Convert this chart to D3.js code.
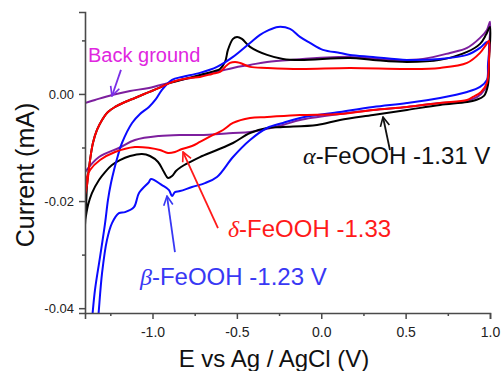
<!DOCTYPE html>
<html><head><meta charset="utf-8">
<script src="https://cdn.jsdelivr.net/npm/d3@7"></script>
<style>html,body{margin:0;padding:0;background:#fff;}svg{display:block;}</style>
</head><body>
<svg id="c" width="502" height="371"></svg>
<script>
// ---- data (E in V vs Ag/AgCl, current in mA), each a closed CV loop ----
const bgE = [-1.400,-1.341,-1.240,-1.133,-1.021,-0.884,-0.719,-0.523,-0.422,-0.321,-0.185,0.170,0.407,0.603,0.763,0.864,0.941,0.982,1.000,
             0.994,0.982,0.947,0.899,0.822,0.704,0.508,0.307,0.111,-0.126,-0.227,-0.422,-0.523,-0.719,-0.819,-0.961,-1.104,-1.199,-1.317,-1.400];
const bgI = [-0.00168,-0.00112,-0.00019,0.00056,0.00112,0.00224,0.00336,0.00486,0.00542,0.00598,0.00636,0.00692,0.00636,0.00654,0.00766,0.00860,0.01047,0.01196,0.01346,
             0.00822,0.00168,0.00000,-0.00093,-0.00150,-0.00168,-0.00243,-0.00299,-0.00374,-0.00486,-0.00579,-0.00710,-0.00729,-0.00766,-0.00766,-0.00785,-0.00860,-0.01009,-0.01178,-0.01458];

const alphaE = [-1.400,-1.394,-1.388,-1.370,-1.353,-1.329,-1.299,-1.264,-1.222,-1.163,-1.104,-1.033,-0.961,-0.896,-0.843,-0.719,-0.630,-0.600,-0.570,-0.553,-0.523,-0.499,-0.470,-0.422,-0.321,-0.227,-0.126,0.170,0.307,0.508,0.704,0.864,0.941,0.976,1.000,
                0.994,0.988,0.964,0.917,0.864,0.704,0.508,0.307,0.111,-0.025,-0.227,-0.321,-0.422,-0.523,-0.618,-0.719,-0.778,-0.831,-0.861,-0.884,-0.908,-0.932,-0.967,-1.015,-1.062,-1.133,-1.193,-1.240,-1.281,-1.317,-1.359,-1.382,-1.400];
const alphaI = [-0.02449,-0.02150,-0.01701,-0.01234,-0.00916,-0.00673,-0.00486,-0.00336,-0.00243,-0.00150,-0.00075,0.00019,0.00112,0.00206,0.00250,0.00355,0.00430,0.00467,0.00598,0.00822,0.01028,0.01065,0.01028,0.00879,0.00729,0.00654,0.00636,0.00673,0.00636,0.00598,0.00636,0.00785,0.00935,0.01103,0.01252,
                0.00636,0.00168,-0.00037,-0.00112,-0.00150,-0.00206,-0.00299,-0.00393,-0.00486,-0.00579,-0.00617,-0.00636,-0.00729,-0.00916,-0.01047,-0.01178,-0.01271,-0.01364,-0.01439,-0.01533,-0.01570,-0.01458,-0.01271,-0.01159,-0.01121,-0.01159,-0.01234,-0.01327,-0.01458,-0.01607,-0.01850,-0.02075,-0.02393];

const betaE = [-1.400,-1.382,-1.359,-1.341,-1.311,-1.281,-1.264,-1.246,-1.228,-1.204,-1.181,-1.121,-1.074,-1.021,-0.979,-0.944,-0.884,-0.825,-0.719,-0.618,-0.523,-0.422,-0.363,-0.321,-0.256,-0.185,-0.126,-0.067,0.010,0.111,0.170,0.307,0.508,0.704,0.864,0.941,0.982,0.994,
               0.988,0.982,0.941,0.864,0.704,0.508,0.307,0.111,-0.126,-0.227,-0.321,-0.422,-0.523,-0.618,-0.689,-0.766,-0.837,-0.867,-0.884,-0.902,-0.944,-1.009,-1.021,-1.080,-1.110,-1.163,-1.199,-1.240,-1.270,-1.299,-1.323,-1.341,-1.370,-1.394];
const betaI = [-0.0572,-0.04879,-0.04224,-0.03664,-0.03047,-0.02411,-0.01981,-0.01664,-0.01421,-0.01140,-0.00916,-0.00542,-0.00374,-0.00243,-0.00093,0.00075,0.00262,0.00318,0.00393,0.00505,0.00692,0.00953,0.01103,0.01178,0.01252,0.01215,0.01065,0.00953,0.00822,0.00766,0.00729,0.00692,0.00636,0.00654,0.00729,0.00860,0.00972,0.00953,
               0.00542,0.00262,0.00131,0.00037,-0.00075,-0.00168,-0.00243,-0.00336,-0.00449,-0.00542,-0.00636,-0.00860,-0.01178,-0.01551,-0.01664,-0.01738,-0.01813,-0.01832,-0.01907,-0.01794,-0.01701,-0.01588,-0.01645,-0.01850,-0.02112,-0.02206,-0.02224,-0.02411,-0.02729,-0.03346,-0.04224,-0.04785,-0.05346,-0.0572];

const deltaE = [-1.400,-1.388,-1.370,-1.353,-1.329,-1.299,-1.264,-1.222,-1.163,-1.104,-1.033,-0.961,-0.896,-0.843,-0.778,-0.719,-0.647,-0.600,-0.570,-0.541,-0.511,-0.481,-0.422,-0.321,-0.126,0.170,0.508,0.704,0.864,0.941,0.976,0.994,
                0.994,0.982,0.947,0.899,0.864,0.704,0.508,0.307,0.111,-0.126,-0.321,-0.422,-0.523,-0.582,-0.641,-0.719,-0.766,-0.825,-0.867,-0.908,-0.956,-1.015,-1.104,-1.222,-1.311,-1.370,-1.394,-1.400];
const deltaI = [-0.01888,-0.01701,-0.01234,-0.00916,-0.00673,-0.00486,-0.00336,-0.00243,-0.00150,-0.00075,0.00019,0.00112,0.00206,0.00262,0.00299,0.00318,0.00374,0.00411,0.00505,0.00579,0.00598,0.00579,0.00505,0.00486,0.00467,0.00486,0.00467,0.00486,0.00579,0.00766,0.00916,0.00991,
                0.00636,0.00206,0.00037,-0.00056,-0.00112,-0.00168,-0.00243,-0.00299,-0.00374,-0.00393,-0.00430,-0.00449,-0.00542,-0.00673,-0.00766,-0.00897,-0.00972,-0.01028,-0.01084,-0.01103,-0.01047,-0.01009,-0.00991,-0.01084,-0.01234,-0.01421,-0.01607,-0.01888];

const xTicks = [-1.0,-0.5,0.0,0.5,1.0];
const xMinor = [-1.25,-0.75,-0.25,0.25,0.75];
const yTicks = [0.00,-0.02,-0.04];
const yMinor = [0.01,-0.01,-0.03];

// annotations: text position and arrow [tailE, tailI, tipE, tipI]
const labels = [
  {greek:"", rest:"Back ground", E:-1.382, I:0.00598, fill:"#e026e0", size:20, arrow:[-1.187,0.00449,-1.240,-0.00037], ac:"#7a2ee6"},
  {greek:"\u03b1", rest:"-FeOOH -1.31 V", E:-0.108, I:-0.01308, fill:"#111", size:24, arrow:[0.407,-0.01047,0.366,-0.00430], ac:"#111"},
  {greek:"\u03b4", rest:"-FeOOH -1.33", E:-0.553, I:-0.02673, fill:"#ff1a1a", size:24, arrow:[-0.612,-0.02505,-0.819,-0.01084], ac:"#ff1a1a"},
  {greek:"\u03b2", rest:"-FeOOH -1.23 V", E:-1.074, I:-0.03570, fill:"#3838f4", size:24, arrow:[-0.867,-0.02953,-0.914,-0.01907], ac:"#3838f4"}
];

const series = [
  {E:bgE, I:bgI, color:"#7d1f9e"},
  {E:alphaE, I:alphaI, color:"#000000"},
  {E:betaE, I:betaI, color:"#0a0aff"},
  {E:deltaE, I:deltaI, color:"#ff0000"}
];

// ---- drawing ----
const svg = d3.select("#c");
const x = d3.scaleLinear().domain([-1.4, 1.0]).range([85, 490]);
const y = d3.scaleLinear().domain([-0.0409, 0.0153]).range([313, 12]);

const defs = svg.append("defs");
defs.append("clipPath").attr("id","plot").append("rect")
  .attr("x", x(-1.4)).attr("y", 0).attr("width", x(1.0)-x(-1.4)+4).attr("height", y(-0.0409));

labels.forEach((l,i)=>{
  defs.append("marker").attr("id","ah"+i).attr("viewBox","0 0 12 12")
    .attr("refX",11).attr("refY",6).attr("markerWidth",11).attr("markerHeight",11)
    .attr("markerUnits","userSpaceOnUse").attr("orient","auto")
    .append("path").attr("d","M1,1 L11,6 L1,11").attr("fill","none")
    .attr("stroke",l.ac).attr("stroke-width",1.8);
});

const line = d3.line().curve(d3.curveCatmullRom.alpha(0.5)).x(d=>x(d[0])).y(d=>y(d[1]));
const g = svg.append("g").attr("clip-path","url(#plot)");
series.forEach(s=>{
  const pts = s.E.map((e,i)=>[e, s.I[i]]);
  g.append("path").attr("d", line(pts)).attr("fill","none")
    .attr("stroke", s.color).attr("stroke-width",2).attr("stroke-linejoin","round");
});

// axes
const axCol = "#4a4a4a";
const xAxis = svg.append("g").attr("transform",`translate(0,${y(-0.0409)})`)
  .call(d3.axisBottom(x).tickValues(xTicks).tickSize(6).tickFormat(d3.format(".1f")));
svg.append("g").attr("transform",`translate(0,${y(-0.0409)})`)
  .call(d3.axisBottom(x).tickValues(xMinor).tickSize(3).tickFormat(""))
  .call(a=>a.select(".domain").remove())
  .selectAll("line").attr("stroke",axCol).attr("stroke-width",1.5);
const yAxis = svg.append("g").attr("transform",`translate(${x(-1.4)},0)`)
  .call(d3.axisLeft(y).tickValues(yTicks).tickSize(6).tickFormat(d3.format(".2f")));
svg.append("g").attr("transform",`translate(${x(-1.4)},0)`)
  .call(d3.axisLeft(y).tickValues(yMinor).tickSize(3).tickFormat(""))
  .call(a=>a.select(".domain").remove())
  .selectAll("line").attr("stroke",axCol).attr("stroke-width",1.5);

[xAxis,yAxis].forEach(a=>{
  a.select(".domain").attr("stroke",axCol).attr("stroke-width",1.6);
  a.selectAll(".tick line").attr("stroke",axCol).attr("stroke-width",1.5);
  a.selectAll(".tick text").attr("fill","#222").attr("font-family","Liberation Sans, Arial, sans-serif");
});
xAxis.selectAll(".tick text").attr("font-size",14).attr("dy","1.05em");
yAxis.selectAll(".tick text").attr("font-size",13).attr("dx","-2");
yAxis.selectAll(".tick text").text(d=>d3.format(".2f")(d).replace("\u2212","-"));
xAxis.selectAll(".tick text").text(d=>d3.format(".1f")(d).replace("\u2212","-"));

// axis titles
svg.append("text").attr("x",274).attr("y",367).attr("text-anchor","middle")
  .attr("font-family","Liberation Sans, Arial, sans-serif").attr("font-size",24).attr("fill","#111")
  .text("E vs Ag / AgCl (V)");
svg.append("text").attr("transform","translate(34,175) rotate(-90)").attr("text-anchor","middle")
  .attr("font-family","Liberation Sans, Arial, sans-serif").attr("font-size",25).attr("fill","#111")
  .text("Current (mA)");

// annotations
labels.forEach((l,i)=>{
  const a = l.arrow;
  svg.append("line").attr("x1",x(a[0])).attr("y1",y(a[1])).attr("x2",x(a[2])).attr("y2",y(a[3]))
    .attr("stroke",l.ac).attr("stroke-width",1.8).attr("marker-end",`url(#ah${i})`);
  const t = svg.append("text").attr("x",x(l.E)).attr("y",y(l.I))
    .attr("font-family","Liberation Sans, Arial, sans-serif").attr("font-size",l.size).attr("fill",l.fill);
  if (l.greek) t.append("tspan").attr("font-family","Liberation Serif, Times New Roman, serif").attr("font-style","italic").text(l.greek);
  t.append("tspan").text(l.rest);
});
</script>
</body></html>
